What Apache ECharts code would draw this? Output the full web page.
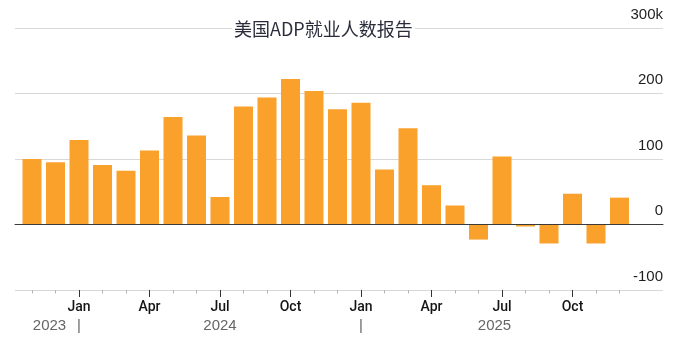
<!DOCTYPE html>
<html><head><meta charset="utf-8">
<script src="https://cdn.jsdelivr.net/npm/echarts@6/dist/echarts.min.js"></script>
<style>html,body{margin:0;padding:0;background:#fff}#c{width:700px;height:343px}</style>
</head><body><div id="c"></div>
<script>
const chartTitle = '美国ADP就业人数报告';
const categories = ['2023-11','2023-12',
  '2024-01','2024-02','2024-03','2024-04','2024-05','2024-06','2024-07','2024-08','2024-09','2024-10','2024-11','2024-12',
  '2025-01','2025-02','2025-03','2025-04','2025-05','2025-06','2025-07','2025-08','2025-09','2025-10','2025-11','2025-12'];
const values = [100, 95,
  129, 91, 82, 113, 164, 136, 42, 180, 194, 222, 204, 176,
  186, 84, 147, 60, 29, -23, 104, -3, -29, 47, -29, 41];
const monthTickLabels = ['', '',
  'Jan', '', '', 'Apr', '', '', 'Jul', '', '', 'Oct', '', '',
  'Jan', '', '', 'Apr', '', '', 'Jul', '', '', 'Oct', '', ''];
const yearLabels = ['', '2023',
  '|', '', '', '', '', '', '2024', '', '', '', '', '',
  '|', '', '', '', '', '', '2025', '', '', '', '', ''];
const yMin = -100, yMax = 300, yStep = 100;
const yTickLabels = {'-100': '-100', '0': '0', '100': '100', '200': '200', '300': '300k'};

const chart = echarts.init(document.getElementById('c'), null, {renderer: 'canvas'});
const narrowLeft = 20.25, narrowRight = 68.75;
chart.setOption({
  backgroundColor: '#fff',
  animation: false,
  title: {
    text: chartTitle, left: 232, top: 18, itemGap: 0,
    padding: [0, 2], backgroundColor: '#fff',
    textStyle: {fontFamily: 'Noto Sans CJK SC', fontSize: 18, fontWeight: 'normal', color: '#2b2d3c', lineHeight: 22}
  },
  grid: [
    {left: 15, right: 37, top: 28, bottom: 53},
    {left: narrowLeft, right: narrowRight, top: 28, bottom: 53}
  ],
  xAxis: [
    {gridIndex: 0, type: 'value', min: 0, max: 1, z: 5,
      axisLine: {show: true, onZero: true, lineStyle: {color: '#3a3a3a', width: 1}},
      axisTick: {show: false}, axisLabel: {show: false}, splitLine: {show: false}},
    {gridIndex: 1, type: 'category', data: categories, boundaryGap: true, position: 'bottom',
      axisLine: {show: false, onZero: false},
      axisTick: {show: true, alignWithLabel: true, interval: 0, length: 3.5, lineStyle: {color: '#b5b5b5', width: 1}},
      axisLabel: {show: false}, splitLine: {show: false}},
    {gridIndex: 1, type: 'category', data: categories, boundaryGap: true, position: 'bottom',
      axisLine: {show: false, onZero: false},
      axisTick: {show: true, alignWithLabel: true, length: 7, lineStyle: {color: '#333', width: 1},
        interval: (i) => monthTickLabels[i] !== ''},
      axisLabel: {show: true, margin: 10, fontFamily: 'Roboto, Liberation Sans, Arial, sans-serif', fontWeight: 500, fontSize: 14, color: '#151515',
        interval: (i) => monthTickLabels[i] !== '',
        formatter: (v, i) => monthTickLabels[i]},
      splitLine: {show: false}},
    {gridIndex: 1, type: 'category', data: categories, boundaryGap: true, position: 'bottom',
      axisLine: {show: false, onZero: false}, axisTick: {show: false},
      axisLabel: {show: true, margin: 28, fontFamily: 'Liberation Sans, Arial, sans-serif', fontSize: 15, color: '#666',
        interval: (i) => yearLabels[i] !== '',
        formatter: (v, i) => {
          const t = yearLabels[i];
          if (t === '2023') return '{l|' + t + '}';
          if (t === '2025') return '{m|' + t + '}';
          return t;
        },
        rich: {
          l: {fontFamily: 'Liberation Sans, Arial, sans-serif', fontSize: 15, color: '#666', padding: [0, 12, 0, 0]},
          m: {fontFamily: 'Liberation Sans, Arial, sans-serif', fontSize: 15, color: '#666', padding: [0, 15, 0, 0]}
        }},
      splitLine: {show: false}}
  ],
  yAxis: [
    {gridIndex: 0, type: 'value', position: 'right', min: yMin, max: yMax, interval: yStep,
      axisLine: {show: false, onZero: false}, axisTick: {show: false},
      splitLine: {show: true, lineStyle: {color: '#d8d8d8', width: 1}},
      axisLabel: {show: true, inside: true, margin: 0, verticalAlign: 'bottom', lineHeight: 15,
        padding: [0, 0, 6, 0],
        fontFamily: 'Liberation Sans, Arial, sans-serif', fontSize: 15, color: '#1e1e1e',
        formatter: (v) => yTickLabels[String(v)]}},
    {gridIndex: 1, type: 'value', min: yMin, max: yMax, interval: yStep, show: false,
      axisLine: {onZero: false}, splitLine: {show: false}}
  ],
  series: [{
    type: 'bar', xAxisIndex: 1, yAxisIndex: 1, data: values, barWidth: 19,
    itemStyle: {color: '#F9A12B'}
  }]
});
</script></body></html>
